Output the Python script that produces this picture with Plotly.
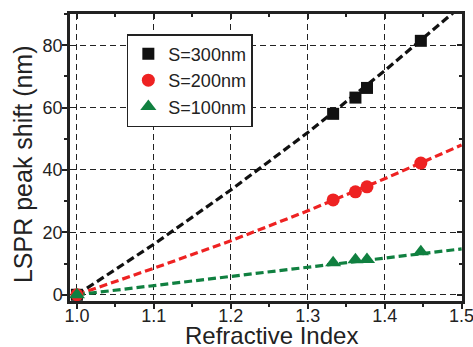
import plotly.graph_objects as go

# measured data points
n_idx = [1.0, 1.333, 1.362, 1.377, 1.447]
s300 = [0, 58.0, 63.2, 66.3, 81.4]
s200 = [0, 30.4, 33.0, 34.6, 42.2]
s100 = [0, 10.3, 11.2, 11.3, 13.8]

# fitted dashed curves
fit_x = [1.0, 1.1, 1.2, 1.3, 1.4, 1.5]
fit300 = [0, 16.2, 33.6, 52.0, 71.8, 92.7]
fit200 = [0, 8.5, 17.3, 26.9, 37.2, 48.0]
fit100 = [0, 2.9, 5.9, 8.9, 11.8, 14.7]

x_ticks = [1.0, 1.1, 1.2, 1.3, 1.4, 1.5]
y_ticks = [0, 20, 40, 60, 80]
x_title = "Refractive Index"
y_title = "LSPR peak shift (nm)"

BLACK = "#111111"
RED = "#ee2222"
GREEN = "#108040"
AX = "#222222"

fig = go.Figure()
for fy, c in [(fit300, BLACK), (fit200, RED), (fit100, GREEN)]:
    fig.add_trace(go.Scatter(x=fit_x, y=fy, mode="lines", showlegend=False,
                             line=dict(color=c, width=3.2, dash="8px,4px"), hoverinfo="skip"))

for yy, c, sym, name, sz in [(s300, BLACK, "square", "S=300nm", 12),
                             (s200, RED, "circle", "S=200nm", 13),
                             (s100, GREEN, "triangle-up", "S=100nm", 14)]:
    fig.add_trace(go.Scatter(x=n_idx, y=yy, mode="markers", name=name,
                             marker=dict(color=c, symbol=sym, size=sz)))

# invisible trace on secondary axes so they render
fig.add_trace(go.Scatter(x=[1.0], y=[0], xaxis="x2", yaxis="y2", mode="markers",
                         marker=dict(opacity=0), showlegend=False, hoverinfo="skip"))

font = "Liberation Sans, Arial, sans-serif"
XR = [0.991, 1.5005]
YR = [-2, 90]
grid = dict(showgrid=True, gridcolor=AX, griddash="6px,4px", gridwidth=1.3)
fig.update_layout(
    width=473, height=347,
    margin=dict(l=70, r=11, t=14, b=46),
    paper_bgcolor="white", plot_bgcolor="white",
    font=dict(family=font, color=AX),
    xaxis=dict(range=XR, tickvals=x_ticks, ticktext=[f"{v:.1f}" for v in x_ticks],
               ticks="outside", ticklen=5, tickwidth=1.5, tickcolor=AX,
               minor=dict(dtick=0.05, tick0=1.0, ticks="outside", ticklen=3, tickcolor=AX, showgrid=False),
               showline=True, linecolor=AX, linewidth=2.5, zeroline=False, automargin=False,
               tickfont=dict(size=18), ticklabelstandoff=-8, ticklabeloverflow="allow",
               **grid),
    yaxis=dict(range=YR, tickvals=y_ticks,
               ticks="outside", ticklen=5, tickwidth=1.5, tickcolor=AX,
               minor=dict(dtick=10, tick0=0, ticks="outside", ticklen=3, tickcolor=AX, showgrid=False),
               showline=True, linecolor=AX, linewidth=2.5, zeroline=False, automargin=False,
               tickfont=dict(size=18), ticklabelstandoff=-4, ticklabeloverflow="allow",
               **grid),
    xaxis2=dict(overlaying="x", side="top", anchor="y2", range=XR, tickvals=x_ticks,
                ticks="inside", ticklen=5, tickwidth=1.5, tickcolor=AX, showticklabels=False,
                minor=dict(dtick=0.05, tick0=1.0, ticks="inside", ticklen=3, tickcolor=AX),
                showline=True, linecolor=AX, linewidth=2.5, showgrid=False, zeroline=False,
                automargin=False),
    yaxis2=dict(overlaying="y", side="right", anchor="x2", range=YR, tickvals=y_ticks,
                ticks="inside", ticklen=5, tickwidth=1.5, tickcolor=AX, showticklabels=False,
                minor=dict(dtick=10, tick0=0, ticks="inside", ticklen=3, tickcolor=AX),
                showline=True, linecolor=AX, linewidth=2.5, showgrid=False, zeroline=False,
                automargin=False),
    legend=dict(x=0.145, y=0.93, xanchor="left", yanchor="top",
                bgcolor="white", bordercolor=AX, borderwidth=1.5,
                font=dict(size=18, color=AX), itemwidth=30, tracegroupgap=0),
    showlegend=True,
    annotations=[
        dict(text=x_title, xref="paper", yref="paper", x=0.515, y=-0.12,
             xanchor="center", yanchor="middle", showarrow=False,
             font=dict(size=24, color=AX)),
        dict(text=y_title, xref="paper", yref="paper", x=-0.12, y=0.477,
             xanchor="center", yanchor="middle", showarrow=False, textangle=-90,
             font=dict(size=25, color=AX)),
    ],
)
fig.write_html("out.html", config={"displayModeBar": False},
               post_script="document.body.style.margin='0';")
